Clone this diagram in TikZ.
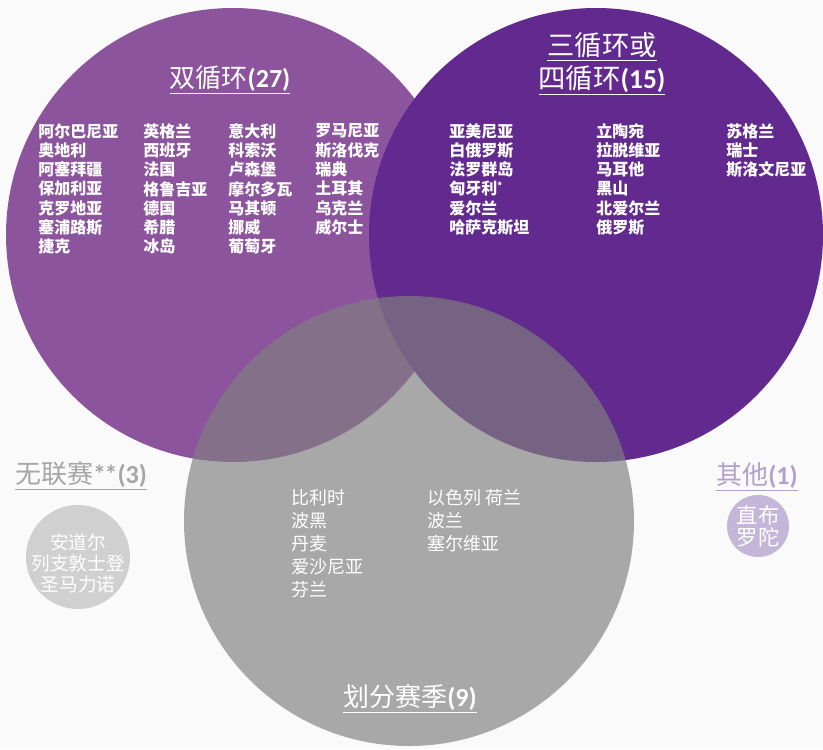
\documentclass[tikz,border=0pt]{standalone}
\usepackage{fontspec}
\newfontfamily\cjk{Noto Sans CJK SC}
\newfontfamily\calfont{Carlito}
\definecolor{bgc}{RGB}{250,250,250}
\definecolor{leftc}{RGB}{140,84,156}
\definecolor{rightc}{RGB}{98,41,142}
\definecolor{grayc}{RGB}{128,128,128}
\definecolor{nonec}{RGB}{166,166,166}
\definecolor{nonecirc}{RGB}{208,208,208}
\definecolor{othc}{RGB}{180,160,204}
\definecolor{othcirc}{RGB}{196,182,216}
\newcommand\hstar{\raisebox{0.35em}{\fontsize{7}{8}\selectfont *}}
\tikzset{
  item/.style={anchor=west, inner sep=0pt, text=white, font=\cjk\fontsize{12}{14}\selectfont\bfseries},
  gitem/.style={anchor=west, inner sep=0pt, text=white, font=\cjk\fontsize{13.5}{16}\selectfont},
  ttl/.style={inner sep=0pt, align=center},
}
\begin{document}
\begin{tikzpicture}[x=0.75pt,y=-0.75pt]
\useasboundingbox (0,0) rectangle (823,749);
\fill[bgc] (0,0) rectangle (823,749);
% main circles
\fill[leftc] (233,235) circle (170.25pt);
\fill[rightc] (596,235) circle (170.25pt);
\fill[grayc, fill opacity=0.667] (409,521) circle (168.75pt);
% small circles
\fill[nonecirc] (78,557) circle (39pt);
\fill[othcirc] (758,526) circle (23.25pt);

% titles
\node[ttl, text=white, font=\fontsize{19.5}{22}\selectfont] (t1) at (230,80)
  {\underline{{\cjk 双循环}{\calfont\bfseries (27)}}};
\node[ttl, text=white, font=\fontsize{20.5}{24.75}\selectfont] (t2) at (602,64)
  {\underline{\cjk 三循环或}\\\underline{{\cjk 四循环}{\calfont\bfseries (15)}}};
\node[ttl, text=white, font=\fontsize{19.5}{22}\selectfont] (t3) at (410,699)
  {\underline{{\cjk 划分赛季}{\calfont\bfseries (9)}}};
\node[ttl, text=nonec, font=\fontsize{19.5}{22}\selectfont] (t4) at (81,476)
  {\underline{{\cjk 无联赛}{\calfont\bfseries *\kern-0.05em*(3)}}};
\node[ttl, text=othc, font=\fontsize{19.5}{22}\selectfont] (t5) at (757,477)
  {\underline{{\cjk 其他}{\calfont\bfseries (1)}}};

% left list
\foreach \t [count=\i] in {阿尔巴尼亚,奥地利,阿塞拜疆,保加利亚,克罗地亚,塞浦路斯,捷克}
  \node[item] (la\i) at (38,{131+19.3*(\i-1)}) {\t};
\foreach \t [count=\i] in {英格兰,西班牙,法国,格鲁吉亚,德国,希腊,冰岛}
  \node[item] (lb\i) at (143,{131+19.3*(\i-1)}) {\t};
\foreach \t [count=\i] in {意大利,科索沃,卢森堡,摩尔多瓦,马其顿,挪威,葡萄牙}
  \node[item] (lc\i) at (228,{131+19.3*(\i-1)}) {\t};
\foreach \t [count=\i] in {罗马尼亚,斯洛伐克,瑞典,土耳其,乌克兰,威尔士}
  \node[item] (ld\i) at (315,{131+19.3*(\i-1)}) {\t};

% right list
\foreach \t [count=\i] in {亚美尼亚,白俄罗斯,法罗群岛,匈牙利\hstar,爱尔兰,哈萨克斯坦}
  \node[item] (ra\i) at (449,{131+19.3*(\i-1)}) {\t};
\foreach \t [count=\i] in {立陶宛,拉脱维亚,马耳他,黑山,北爱尔兰,俄罗斯}
  \node[item] (rb\i) at (596,{131+19.3*(\i-1)}) {\t};
\foreach \t [count=\i] in {苏格兰,瑞士,斯洛文尼亚}
  \node[item] (rc\i) at (726,{131+19.3*(\i-1)}) {\t};

% gray list
\foreach \t [count=\i] in {比利时,波黑,丹麦,爱沙尼亚,芬兰}
  \node[gitem] (ga\i) at (291,{498+23*(\i-1)}) {\t};
\foreach \t [count=\i] in {以色列 荷兰,波兰,塞尔维亚}
  \node[gitem] (gb\i) at (427,{498+23*(\i-1)}) {\t};

% small circle texts
\node[ttl, text=white, font=\cjk\fontsize{14}{15.75}\selectfont] (na) at (78,563)
  {安道尔\\列支敦士登\\圣马力诺};
\node[ttl, text=white, font=\cjk\fontsize{16}{16.5}\selectfont] (oa) at (758,526)
  {直布\\罗陀};
\end{tikzpicture}
\end{document}
